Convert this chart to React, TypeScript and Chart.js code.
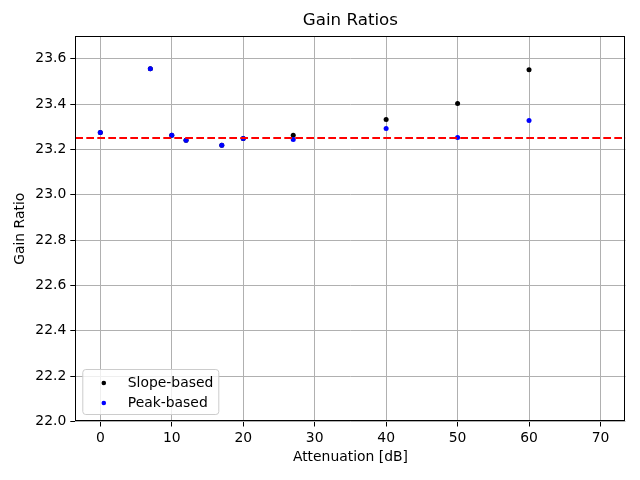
import React, { useEffect, useRef } from "react";
import { Chart, registerables } from "chart.js";

Chart.register(...registerables);

const attenuation = [0, 7, 10, 12, 17, 20, 27, 40, 50, 60];
const slopeBased = [23.275, 23.556, 23.262, 23.24, 23.218, 23.248, 23.263, 23.332, 23.402, 23.551];
const peakBased = [23.275, 23.556, 23.262, 23.24, 23.218, 23.248, 23.244, 23.292, 23.253, 23.327];
const referenceGain = 23.25;
const xTicks = [0, 10, 20, 30, 40, 50, 60, 70];
const yTicks = [22.0, 22.2, 22.4, 22.6, 22.8, 23.0, 23.2, 23.4, 23.6];
const xRange = [-3.5, 73.5];
const yRange = [22.0, 23.7];
const seriesNames = ["Slope-based", "Peak-based"];
const seriesColors = ["#000000", "#0000ff"];

const FONT = "'DejaVu Sans', sans-serif";

const framePlugin = {
  id: "frame",
  afterDatasetsDraw(chart: any) {
    const { ctx, chartArea } = chart;
    ctx.save();
    ctx.strokeStyle = "#000";
    ctx.lineWidth = 1;
    ctx.strokeRect(
      Math.round(chartArea.left) + 0.5,
      Math.round(chartArea.top) + 0.5,
      Math.round(chartArea.right - chartArea.left) - 1,
      Math.round(chartArea.bottom - chartArea.top) - 1
    );
    ctx.restore();
  },
};

const legendPlugin = {
  id: "mplLegend",
  afterDraw(chart: any) {
    const { ctx, chartArea } = chart;
    const x0 = chartArea.left + 7.5;
    const y0 = chartArea.bottom - 52;
    const w = 136;
    const h = 45;
    ctx.save();
    ctx.beginPath();
    ctx.roundRect(x0, y0, w, h, 3);
    ctx.fillStyle = "rgba(255,255,255,0.8)";
    ctx.fill();
    ctx.strokeStyle = "#cccccc";
    ctx.lineWidth = 1;
    ctx.stroke();
    ctx.font = `13.9px ${FONT}`;
    ctx.textBaseline = "middle";
    ctx.textAlign = "left";
    seriesNames.forEach((name, i) => {
      const cy = y0 + 13.5 + i * 20;
      ctx.beginPath();
      ctx.arc(x0 + 21, cy, 2.3, 0, Math.PI * 2);
      ctx.fillStyle = seriesColors[i];
      ctx.fill();
      ctx.fillStyle = "#000";
      ctx.fillText(name, x0 + 45, cy);
    });
    ctx.restore();
  },
};

export default function App() {
  const ref = useRef<HTMLCanvasElement | null>(null);
  useEffect(() => {
    if (!ref.current) return;
    Chart.defaults.font.family = FONT;
    Chart.defaults.color = "#000";
    const chart = new Chart(ref.current, {
      type: "scatter",
      data: {
        datasets: [
          {
            type: "line",
            label: "ref",
            data: xRange.map((x) => ({ x, y: referenceGain })),
            borderColor: "#ff0000",
            borderWidth: 2,
            borderDash: [7.7, 3.3],
            pointRadius: 0,
            order: 0,
          } as any,
          {
            label: seriesNames[0],
            data: attenuation.map((x, i) => ({ x, y: slopeBased[i] })),
            backgroundColor: seriesColors[0],
            borderWidth: 0,
            pointRadius: 2.5,
            order: 2,
          },
          {
            label: seriesNames[1],
            data: attenuation.map((x, i) => ({ x, y: peakBased[i] })),
            backgroundColor: seriesColors[1],
            borderWidth: 0,
            pointRadius: 2.5,
            order: 1,
          },
        ],
      },
      options: {
        responsive: false,
        animation: false,
        layout: { padding: { left: 0, right: 14.5, top: 0, bottom: 0 } },
        plugins: {
          legend: { display: false },
          tooltip: { enabled: false },
          title: {
            display: true,
            text: "Gain Ratios",
            fullSize: false,
            color: "#000",
            font: { size: 16.7, weight: "normal", family: FONT },
            padding: { top: 11, bottom: 5 },
          },
        },
        scales: {
          x: {
            type: "linear",
            min: xRange[0],
            max: xRange[1],
            afterBuildTicks: (s: any) => {
              s.ticks = xTicks.map((value) => ({ value }));
            },
            afterFit: (s: any) => {
              s.height = 58.5;
            },
            ticks: {
              callback: (v: any) => String(v),
              font: { size: 13.9 },
              color: "#000",
              padding: 4,
              maxRotation: 0,
            },
            grid: {
              color: "#b0b0b0",
              lineWidth: 1,
              tickColor: "#000",
              tickLength: 5,
              tickWidth: 1,
            },
            border: { display: false },
            title: {
              display: true,
              text: "Attenuation [dB]",
              font: { size: 13.9 },
              color: "#000",
              padding: { top: 0, bottom: 14.5 },
            },
          },
          y: {
            type: "linear",
            min: yRange[0],
            max: yRange[1],
            afterBuildTicks: (s: any) => {
              s.ticks = yTicks.map((value) => ({ value }));
            },
            afterFit: (s: any) => {
              s.width = 75.3;
            },
            ticks: {
              callback: (v: any) => Number(v).toFixed(1),
              font: { size: 13.9 },
              color: "#000",
              padding: 4,
            },
            grid: {
              color: "#b0b0b0",
              lineWidth: 1,
              tickColor: "#000",
              tickLength: 5,
              tickWidth: 1,
            },
            border: { display: false },
            title: {
              display: true,
              text: "Gain Ratio",
              font: { size: 13.9 },
              color: "#000",
              padding: { top: 12.5, bottom: 0 },
            },
          },
        },
      },
      plugins: [framePlugin, legendPlugin],
    });
    return () => chart.destroy();
  }, []);
  return (
    <div style={{ position: "fixed", left: 0, top: 0, width: 640, height: 480, background: "#fff" }}>
      <canvas ref={ref} width={640} height={480} />
    </div>
  );
}
